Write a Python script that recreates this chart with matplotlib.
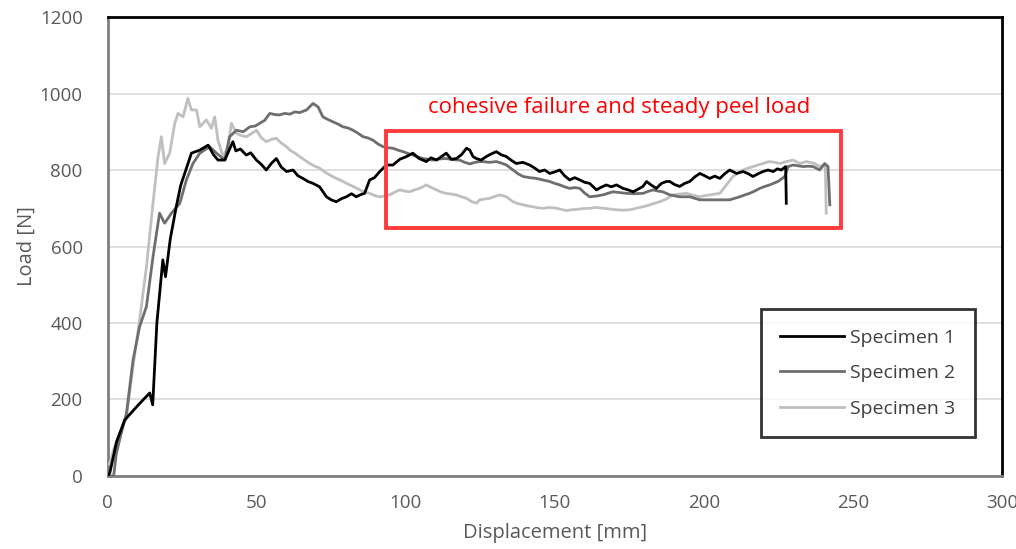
import matplotlib
matplotlib.use('Agg')
import matplotlib.pyplot as plt
from matplotlib.patches import Rectangle

plt.rcParams['font.family'] = ['Open Sans', 'DejaVu Sans']

# Specimen 1 (black)
disp1 = [0, 0.7, 3, 5.7, 9, 12, 14.1, 15.1, 16.5, 18.5,
         19.4, 21, 23, 24.5, 26.4, 28.1, 30.9, 33.7, 35.5, 37,
         39.3, 42, 43, 44.5, 46.5, 48, 49.9, 51.5, 53.2, 55,
         56.6, 58.2, 60, 62.2, 63.8, 65.5, 67.2, 68.9, 71.1, 73.4,
         75, 76.7, 78.4, 80.1, 81.8, 83.4, 85, 86.2, 87.9, 89.5,
         91.3, 93.5, 95.7, 98, 100.2, 102.4, 104.5, 106.9, 108.5, 110.3,
         112, 113.6, 115.3, 117, 118.7, 120.4, 121.5, 122.6, 123.7, 125.3,
         127, 128.7, 130.4, 132, 133.8, 135.5, 137.1, 139.3, 141.6, 143.3,
         144.9, 146.6, 148.3, 150, 151.7, 153.3, 155, 156.7, 158.4, 160,
         161.7, 164, 165.6, 167.3, 169, 170.7, 172.9, 174.6, 176.3, 178,
         179.6, 180.8, 182.5, 184.1, 185.8, 187.5, 188.6, 190.2, 191.9, 193.6,
         195.3, 197, 198.7, 200.3, 202, 203.7, 205.4, 207, 208.7, 211,
         213.2, 215, 216.5, 218.2, 219.9, 221.6, 223.3, 224.7, 226, 227.5,
         227.7]
load1 = [0, 8, 90, 146, 175, 200, 217, 186, 400, 565,
         521, 620, 704, 760, 804, 844, 852, 865, 840, 826,
         826, 874, 850, 855, 839, 845, 826, 815, 800, 818,
         830, 808, 796, 800, 785, 778, 770, 765, 756, 730,
         722, 717, 725, 730, 738, 730, 736, 739, 774, 780,
         796, 813, 813, 828, 835, 844, 830, 822, 832, 826,
         835, 844, 828, 830, 840, 857, 852, 835, 830, 826,
         835, 842, 848, 840, 835, 825, 817, 820, 813, 805,
         796, 800, 791, 795, 800, 785, 774, 780, 774, 768,
         765, 748, 755, 761, 756, 761, 752, 748, 743, 750,
         757, 770, 760, 752, 765, 770, 770, 762, 757, 765,
         770, 782, 791, 785, 778, 784, 778, 790, 800, 791,
         796, 790, 783, 790, 796, 800, 796, 803, 800, 809,
         713]

# Specimen 2 (dark grey)
disp2 = [0, 2, 2.9, 4.5, 6.3, 8.5, 10.7, 13, 15.2, 17.4,
         19.1, 21.4, 24.2, 26.4, 28.6, 30.9, 34.2, 36.5, 39.3, 40.9,
         43.2, 45.5, 47.7, 49.5, 51, 52.7, 54.4, 56, 57.7, 59.4,
         61.1, 62.8, 64.4, 66.7, 68.9, 70.6, 72.2, 73.9, 75.6, 77.3,
         78.9, 80.6, 82.3, 84, 85.7, 87.3, 89, 90.7, 92.4, 94,
         95.7, 97.4, 99.1, 100.8, 102.4, 104.1, 105.8, 107.5, 109.2, 111.4,
         113.6, 115.8, 118.1, 119.8, 121.5, 123.2, 124.8, 125.9, 128.1, 130.4,
         132.1, 133.8, 136, 137.7, 139.4, 141.6, 143.8, 146, 148.3, 150,
         151.7, 153.3, 155, 156.7, 158.4, 160, 161.7, 164, 166.2, 167.8,
         169.5, 171.8, 174, 176.8, 179.6, 181.3, 183, 184.6, 186.3, 188.6,
         191.9, 195.3, 198.7, 202, 205.4, 208.7, 210.4, 212.1, 213.8, 215.4,
         217.1, 218.8, 220.5, 222.1, 224.9, 227.2, 228.3, 230, 231.7, 233.3,
         235, 236.7, 238.9, 240.6, 241.7, 242.3]
load2 = [0, 0, 59, 110, 164, 303, 390, 443, 573, 687,
         661, 687, 713, 774, 817, 844, 861, 844, 826, 887,
         904, 900, 913, 915, 922, 930, 948, 945, 944, 948,
         946, 952, 950, 957, 974, 965, 939, 932, 926, 920,
         913, 910, 904, 896, 887, 884, 878, 868, 861, 858,
         857, 852, 848, 843, 839, 834, 830, 828, 826, 829,
         830, 827, 826, 820, 816, 820, 822, 822, 820, 822,
         818, 813, 800, 790, 783, 780, 778, 774, 770, 765,
         761, 756, 752, 754, 752, 740, 730, 732, 735, 739,
         743, 741, 739, 738, 739, 744, 748, 745, 743, 735,
         730, 730, 722, 722, 722, 722, 726, 730, 735, 739,
         745, 752, 757, 761, 770, 783, 809, 813, 811, 809,
         810, 809, 800, 817, 809, 709]

# Specimen 3 (light grey)
disp3 = [0, 0.7, 2, 4, 6.3, 8.5, 10.7, 13, 15.2, 16.9,
         18, 19.1, 20.8, 22.5, 23.6, 25.3, 26.9, 28.1, 29.8, 30.9,
         33.1, 34.8, 35.9, 37, 38.7, 40.4, 41.5, 43.2, 44.8, 46.5,
         48.2, 49.9, 51.5, 53.2, 54.9, 56.6, 58.3, 60, 61.1, 62.7,
         64.4, 66.1, 67.8, 69.5, 71.1, 72.8, 74.5, 76.2, 77.9, 79.5,
         81.2, 82.9, 84.6, 86.2, 87.9, 89.6, 91.3, 93, 94.6, 96.3,
         98, 99.6, 101.3, 103, 104.7, 106.9, 108.6, 110.3, 112, 113.6,
         115.3, 117, 118.7, 120.4, 122, 123.7, 124.8, 126.5, 128.2, 129.9,
         131.5, 133.8, 136, 137.7, 139.4, 141, 142.7, 144.4, 146.1, 148.3,
         150.6, 152.2, 153.9, 155.6, 157.3, 159.5, 161.7, 164, 166.2, 168.5,
         170.7, 173, 175.2, 176.8, 178.5, 180.2, 181.9, 183.5, 185.2, 187.4,
         189.6, 191.9, 194.2, 196.4, 198.7, 200.4, 202, 203.7, 205.4, 207.6,
         209.8, 211.5, 213.2, 214.9, 216.5, 218.2, 219.9, 221, 222.1, 223.8,
         225.5, 227.7, 230, 232.2, 234.5, 237.2, 238.9, 240, 240.8, 241.1]
load3 = [30, 33, 70, 111, 155, 286, 408, 547, 713, 835,
         887, 817, 844, 922, 948, 939, 987, 957, 957, 913,
         931, 909, 939, 878, 835, 861, 922, 896, 890, 887,
         895, 904, 885, 874, 880, 883, 870, 861, 852, 845,
         835, 826, 817, 810, 805, 795, 787, 780, 774, 768,
         761, 755, 748, 742, 739, 733, 730, 732, 735, 742,
         748, 745, 743, 748, 752, 761, 754, 748, 742, 739,
         737, 735, 730, 726, 718, 713, 722, 724, 726, 731,
         735, 730, 717, 712, 709, 706, 704, 701, 700, 702,
         700, 697, 694, 696, 697, 699, 700, 702, 700, 698,
         696, 695, 696, 699, 702, 705, 709, 713, 717, 724,
         735, 737, 739, 734, 730, 733, 735, 737, 739, 761,
         783, 792, 800, 805, 809, 813, 817, 820, 822, 820,
         817, 822, 826, 817, 822, 817, 809, 813, 809, 687]

fig = plt.figure(figsize=(10.16, 5.49), dpi=100)
ax = fig.add_axes([0.106, 0.133, 0.880, 0.836])

ax.plot(disp3, load3, color='#BFBFBF', linewidth=2, label='Specimen 3', zorder=3)
ax.plot(disp2, load2, color='#6E6E6E', linewidth=2, label='Specimen 2', zorder=4)
ax.plot(disp1, load1, color='black', linewidth=2, label='Specimen 1', zorder=5)

ax.set_xlim(0, 300)
ax.set_ylim(0, 1200)
ax.set_xticks(range(0, 301, 50))
ax.set_yticks(range(0, 1201, 200))
ax.grid(axis='y', color='#D9D9D9', linewidth=1.2)
ax.set_axisbelow(True)
ax.tick_params(length=0, labelsize=13.5, labelcolor='#595959')
ax.tick_params(axis='x', pad=13)
ax.tick_params(axis='y', pad=18)
ax.set_xlabel('Displacement [mm]', fontsize=14.5, color='#595959', labelpad=8)
ax.set_ylabel('Load [N]', fontsize=14.5, color='#595959', labelpad=2)
for side in ['top', 'right']:
    ax.spines[side].set_color('black')
    ax.spines[side].set_linewidth(2)
for side in ['left', 'bottom']:
    ax.spines[side].set_color('#7F7F7F')
    ax.spines[side].set_linewidth(2)

# highlighted region
ax.add_patch(Rectangle((93.3, 648), 152.7, 254, fill=False,
                       edgecolor='#FF3B3B', linewidth=2.8, zorder=6))
ax.text(171.5, 963, 'cohesive failure and steady peel load', color='#FF0000',
        fontsize=16, ha='center', va='center')

handles, labels = ax.get_legend_handles_labels()
leg = ax.legend(handles[::-1], labels[::-1], loc='lower right',
                bbox_to_anchor=(0.970, 0.085), fontsize=14, frameon=True,
                fancybox=False, edgecolor='black', handlelength=3.3,
                handletextpad=0.3, labelspacing=0.9, borderpad=1.0,
                borderaxespad=0)
leg.get_frame().set_linewidth(2)
for t in leg.get_texts():
    t.set_color('#404040')

fig.savefig('out.png', dpi=100, facecolor='white')
